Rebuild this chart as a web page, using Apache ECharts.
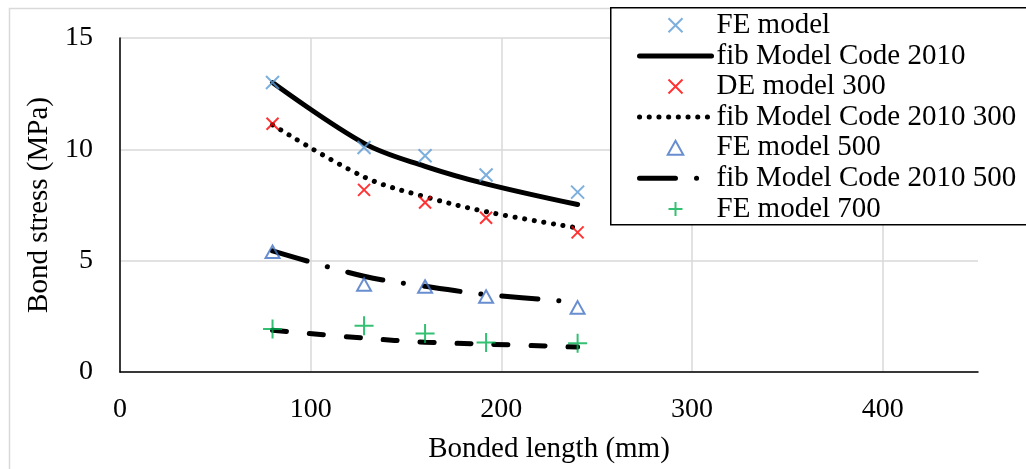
<!DOCTYPE html>
<html>
<head>
<meta charset="utf-8">
<script src="https://cdn.jsdelivr.net/npm/echarts@6/dist/echarts.min.js"></script>
<style>
  html, body { margin: 0; padding: 0; background: #fff; }
  #chart { width: 1026px; height: 469px; }
</style>
</head>
<body>
<div id="chart"></div>
<script>
// Bonded length (mm) at which every model was evaluated
const bondedLength = [80, 128, 160, 192, 240];

// Bond stress (MPa) per model
const feModel          = [13.0, 10.08, 9.71, 8.85, 8.08];
const fibMc2010        = [13.0, 10.27, 9.24, 8.45, 7.52];
const deModel300       = [11.15, 8.18, 7.61, 6.93, 6.27];
const fibMc2010_300    = [11.1, 8.76, 7.87, 7.2, 6.47];
const feModel500       = [5.4, 3.93, 3.84, 3.39, 2.9];
const fibMc2010_500    = [5.44, 4.3, 3.85, 3.48, 3.14];
const feModel700       = [1.93, 2.08, 1.73, 1.33, 1.29];
const fibMc2010_700    = [1.88, 1.52, 1.34, 1.25, 1.12];

// Axis ticks
const xTicks = [0, 100, 200, 300, 400];
const yTicks = [0, 5, 10, 15];

const legendNames = [
  'FE model', 'fib Model Code 2010', 'DE model 300', 'fib Model Code 2010 300',
  'FE model 500', 'fib Model Code 2010 500', 'FE model 700'
];

const pairs = ys => bondedLength.map((x, i) => [x, ys[i]]);

// Marker outlines (stroked paths, so they keep their aspect in the legend too)
const crossPath = 'path://M0,0L10,10M0,10L10,0';
const plusPath = 'path://M5,0L5,10M0,5L10,5';
const trianglePath = 'path://M5,0L10,9L0,9Z';
const serif = '"Liberation Serif", "Times New Roman", serif';
const clear = 'rgba(0,0,0,0)';

function markerSeries(name, values, symbol, size, color) {
  return {
    name, type: 'scatter', data: pairs(values),
    symbol, symbolSize: size, symbolKeepAspect: true,
    itemStyle: { color: clear, borderColor: color, borderWidth: 2 },
    emphasis: { disabled: true }, z: 3
  };
}

function lineSeries(name, values, type, cap) {
  return {
    name, type: 'line', data: pairs(values),
    symbol: 'none', smooth: 0.35,
    itemStyle: { color: clear, borderColor: clear, borderWidth: 0 },
    lineStyle: { color: '#000', width: 5, type, cap: cap || 'butt' },
    emphasis: { disabled: true }, z: 2
  };
}

const chart = echarts.init(document.getElementById('chart'));
chart.setOption({
  animation: false,
  backgroundColor: '#fff',
  textStyle: { fontFamily: serif },
  grid: { left: 120, right: 48, top: 38, bottom: 94 },
  graphic: [
    { type: 'rect', left: 7, top: 6, shape: { width: 1040, height: 480 },
      style: { fill: 'none', stroke: '#d9d9d9', lineWidth: 1.5 }, z: -10 },
    { type: 'rect', left: 610, top: 7, shape: { width: 430, height: 217 },
      style: { fill: '#fff', stroke: '#000', lineWidth: 1.5 }, z: 50 }
  ],
  legend: {
    data: legendNames,
    orient: 'vertical',
    left: 637, top: 10,
    padding: 0,
    itemGap: 0,
    itemWidth: 72, itemHeight: 14,
    z: 60,
    lineStyle: { width: 'inherit' },
    textStyle: { fontFamily: serif, fontSize: 29, color: '#000', lineHeight: 30.6 },
    selectedMode: false
  },
  xAxis: {
    type: 'value', min: xTicks[0], max: 450, interval: xTicks[1] - xTicks[0],
    name: 'Bonded length (mm)', nameLocation: 'middle', nameGap: 63,
    nameTextStyle: { fontFamily: serif, fontSize: 29, color: '#000' },
    axisLine: { show: true, onZero: false, lineStyle: { color: '#000', width: 1.5 } },
    axisTick: { show: false },
    axisLabel: { fontFamily: serif, fontSize: 28, color: '#000', margin: 24,
      showMaxLabel: false,
      formatter: v => (xTicks.indexOf(v) >= 0 ? String(v) : '') },
    splitLine: { show: true, showMaxLine: false, lineStyle: { color: '#d9d9d9', width: 1.5 } }
  },
  yAxis: {
    type: 'value', min: yTicks[0], max: yTicks[yTicks.length - 1], interval: yTicks[1] - yTicks[0],
    name: 'Bond stress (MPa)', nameLocation: 'middle', nameGap: 64,
    nameTextStyle: { fontFamily: serif, fontSize: 29, color: '#000' },
    axisLine: { show: true, lineStyle: { color: '#000', width: 1.5 } },
    axisTick: { show: false },
    axisLabel: { fontFamily: serif, fontSize: 28, color: '#000', margin: 27 },
    splitLine: { show: true, lineStyle: { color: '#d9d9d9', width: 1.5 } }
  },
  series: [
    markerSeries('FE model', feModel, crossPath, 13, '#5B9BD5'),
    lineSeries('fib Model Code 2010', fibMc2010, 'solid', 'round'),
    markerSeries('DE model 300', deModel300, crossPath, 12, '#FF0000'),
    lineSeries('fib Model Code 2010 300', fibMc2010_300, [0.1, 9.6], 'round'),
    markerSeries('FE model 500', feModel500, trianglePath, 14, '#4472C4'),
    lineSeries('fib Model Code 2010 500', fibMc2010_500, [36, 21, 0.1, 21], 'round'),
    markerSeries('FE model 700', feModel700, plusPath, 19, '#00B050'),
    lineSeries('fib Model Code 2010 700', fibMc2010_700, [14, 23], 'round')
  ]
});
</script>
</body>
</html>
